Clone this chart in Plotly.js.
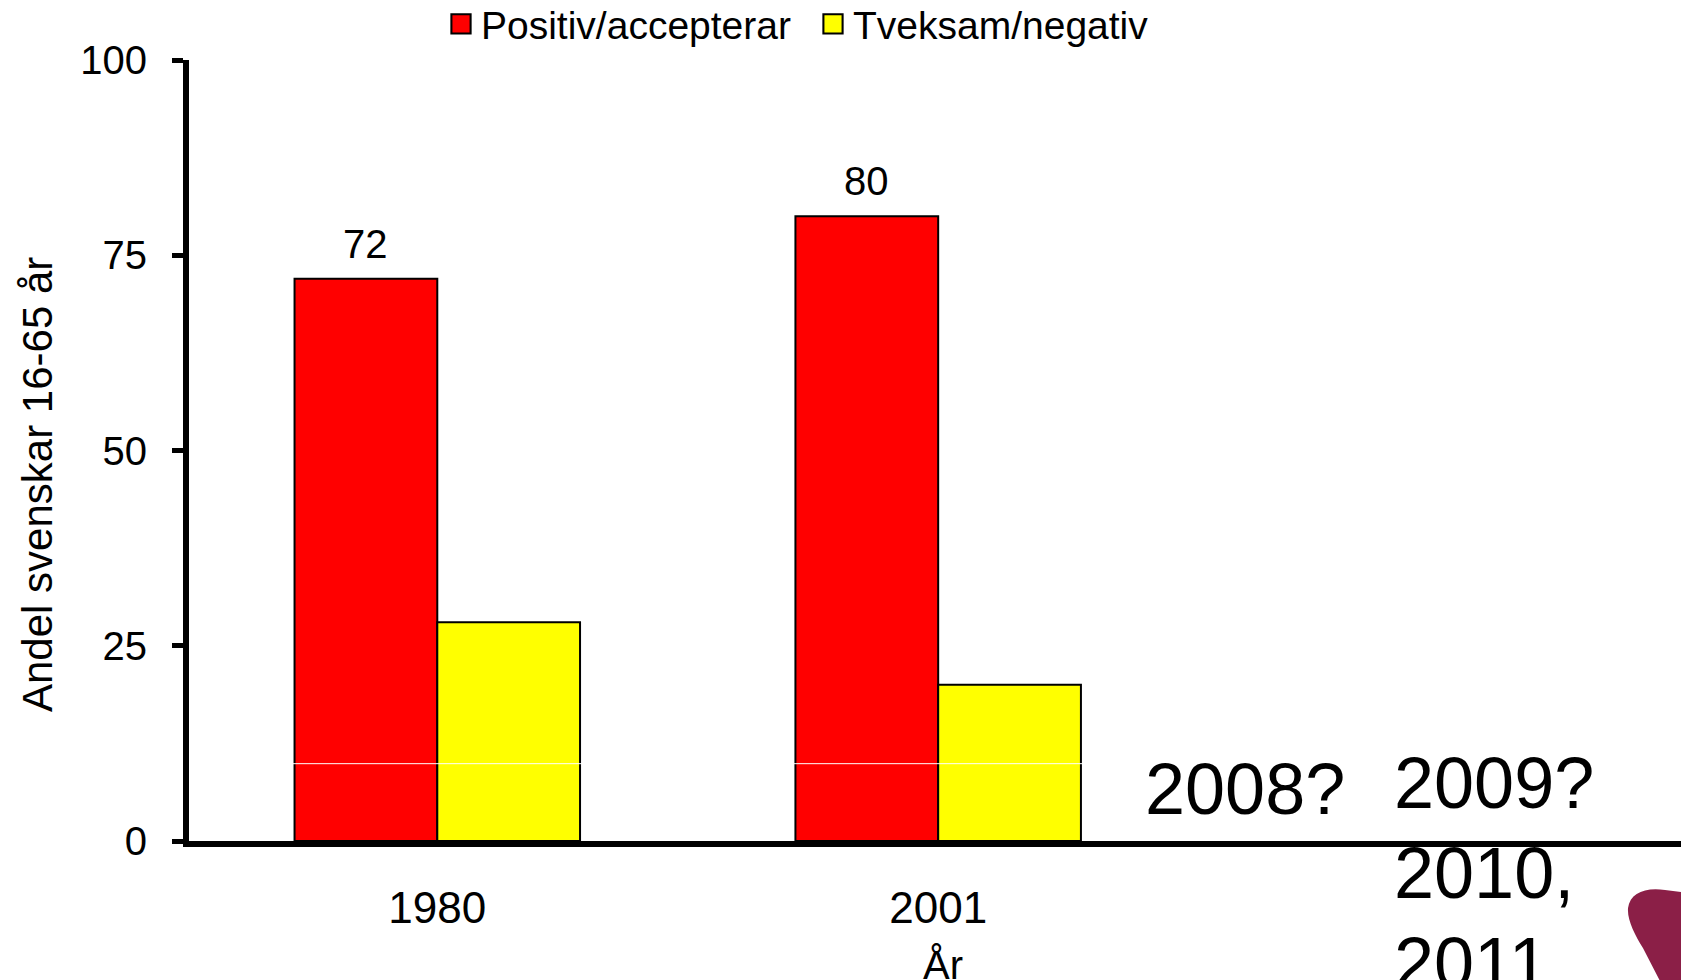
<!DOCTYPE html>
<html>
<head>
<meta charset="utf-8">
<script src="https://cdn.plot.ly/plotly-3.0.1.min.js"></script>
<style>html,body{margin:0;padding:0;background:#fff;}#chart{width:1681px;height:980px;}</style>
</head>
<body>
<div id="chart"></div>
<script>
// ---- data ----
const years = ['1980', '2001'];
const positiv = [72, 80];
const tveksam = [28, 20];
const seriesNames = ['Positiv/accepterar', 'Tveksam/negativ'];
const yTicks = [0, 25, 50, 75, 100];
const yTitle = 'Andel svenskar 16-65 år';
const xTitle = 'År';
const futureLeft = ['2008?'];
const futureRight = ['2009?', '2010,', '2011'];

const FONT = 'Liberation Sans, Arial, sans-serif';
const bargap = 0.43;
const barW = (1 - bargap) / 2;

const traces = [
  {type: 'bar', name: seriesNames[0], x: years, y: positiv,
   marker: {color: '#FF0000', line: {color: '#000', width: 2}}, hoverinfo: 'y'},
  {type: 'bar', name: seriesNames[1], x: years, y: tveksam,
   marker: {color: '#FFFF00', line: {color: '#000', width: 2}}, hoverinfo: 'y'}
];

const annotations = [];
// value labels above red bars
positiv.forEach((v, i) => {
  annotations.push({x: i - barW / 2, y: v, xref: 'x', yref: 'y', text: String(v),
    showarrow: false, xanchor: 'center', yanchor: 'bottom', yshift: 11,
    font: {family: FONT, size: 40, color: '#000'}});
});
// y axis title
annotations.push({x: 37, y: 485, text: yTitle, showarrow: false, xanchor: 'center', yanchor: 'middle',
  textangle: -90, font: {family: FONT, size: 42, color: '#000'}, _px: true});
// x axis title
annotations.push({x: 943, y: 965, text: xTitle, showarrow: false, xanchor: 'center', yanchor: 'middle',
  font: {family: FONT, size: 40, color: '#000'}, _px: true});
// future years text
annotations.push({x: 1143, y: 789, text: futureLeft[0], showarrow: false, xanchor: 'left', yanchor: 'middle',
  font: {family: FONT, size: 72, color: '#000'}, _px: true});
futureRight.forEach((t, i) => {
  annotations.push({x: 1392, y: 783 + i * 90, text: t, showarrow: false, xanchor: 'left', yanchor: 'middle',
    font: {family: FONT, size: 72, color: '#000'}, _px: true});
});

// plot geometry (pixels)
const L = 189, R = 1681, T = 60, B = 841;
const px2x = p => (p - L) / (R - L);
const px2y = p => (B - p) / (B - T);
annotations.forEach(a => {
  if (a._px) { a.x = px2x(a.x); a.y = px2y(a.y); a.xref = 'paper'; a.yref = 'paper'; delete a._px; }
});

// decorative logo blob in bottom-right corner
const P = (x, y) => px2x(x).toFixed(4) + ',' + px2y(y).toFixed(4);
const blob = 'M' + P(1690, 893) + ' L' + P(1665, 890) +
  ' C' + P(1645, 887) + ' ' + P(1630, 893) + ' ' + P(1628, 908) +
  ' C' + P(1627, 920) + ' ' + P(1635, 935) + ' ' + P(1643, 948) +
  ' L' + P(1662, 985) + ' L' + P(1690, 985) + ' Z';

const layout = {
  width: 1681, height: 980,
  margin: {l: L, r: 1681 - R, t: T, b: 980 - B, pad: 0, autoexpand: false},
  paper_bgcolor: '#fff', plot_bgcolor: '#fff',
  font: {family: FONT, color: '#000', size: 40},
  barmode: 'group', bargap: bargap, bargroupgap: 0,
  showlegend: true,
  legend: {orientation: 'h', x: px2x(441), y: px2y(24), xanchor: 'left', yanchor: 'middle',
    entrywidth: 327, entrywidthmode: 'pixels',
    font: {family: FONT, size: 39, color: '#000'}, bgcolor: 'rgba(0,0,0,0)', traceorder: 'normal'},
  xaxis: {type: 'category', range: [-0.4957, 2.483], showline: true, linecolor: '#000', linewidth: 6,
    ticks: '', showgrid: false, zeroline: false, fixedrange: true,
    tickfont: {family: FONT, size: 44, color: '#000'}, ticklabelstandoff: 23},
  yaxis: {range: [0, 100], tickvals: yTicks, ticktext: yTicks.map(String), showline: true,
    linecolor: '#000', linewidth: 6, ticks: 'outside', ticklen: 11, tickwidth: 5, tickcolor: '#000',
    showgrid: false, zeroline: false, fixedrange: true,
    tickfont: {family: FONT, size: 40, color: '#000'}, ticklabelstandoff: 17},
  shapes: [
    {type: 'line', xref: 'paper', yref: 'y', x0: 0.01, x1: 0.99, y0: 9.9, y1: 9.9,
     line: {color: '#fff', width: 1}, layer: 'above'},
    {type: 'path', xref: 'paper', yref: 'paper', path: blob, fillcolor: '#8B1F47',
     line: {width: 0}, layer: 'above'}
  ],
  annotations: annotations
};

const gd = document.getElementById('chart');
function enlargeLegendSymbols() {
  gd.querySelectorAll('.legend .legendpoints path').forEach(p => {
    if (p.dataset.enlarged) return;
    const t = p.getAttribute('transform') || '';
    p.setAttribute('transform', t + ' scale(1.6)');
    p.style.strokeWidth = '1.3px';
    p.dataset.enlarged = '1';
  });
}
Plotly.newPlot(gd, traces, layout, {displayModeBar: false, staticPlot: true}).then(() => {
  enlargeLegendSymbols();
  gd.on('plotly_afterplot', enlargeLegendSymbols);
});
</script>
</body>
</html>
